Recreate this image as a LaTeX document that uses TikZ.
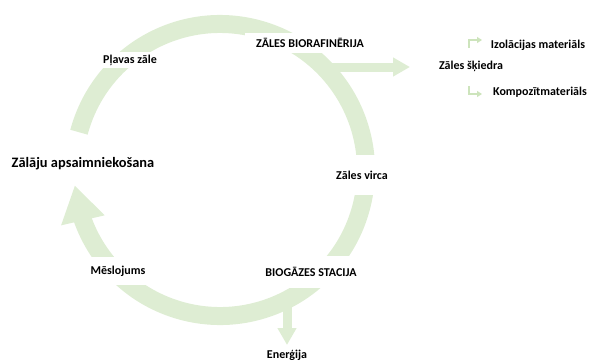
\documentclass[tikz,border=0pt]{standalone}
\usepackage{fontspec}
\setmainfont{Carlito}
\usepackage{xcolor}
\definecolor{bandGreen}{RGB}{222, 237, 211}
\definecolor{tickGreen}{RGB}{205, 228, 188}
\usetikzlibrary{positioning, arrows.meta, bending}

\begin{document}
\begin{tikzpicture}[
		x=1pt, y=-1pt,
		font=\bfseries\fontsize{12}{14}\selectfont,
		band/.style={draw=bandGreen, line width=18pt},
		branch/.style={draw=bandGreen, line width=9pt, -{Triangle[width=18pt, length=17pt]}},
		tick/.style={draw=tickGreen, line width=1.8pt, -{Triangle[width=6pt, length=5pt]}},
		lbl/.style={fill=white, inner sep=0pt, align=center}
		]
		\useasboundingbox (0,0) rectangle (593,362);
		\coordinate (hub) at (220,170);

		% cycle band and its two side branches
		\draw[band, -{Triangle[width=42pt, length=36pt, flex]}]
			([shift={(195:146)}]hub) arc[start angle=195, end angle=534, radius=146];
		\coordinate (refOut) at (322,67);
		\coordinate (refEnd) at (410,67);
		\coordinate (gasOut) at (287,298);
		\coordinate (gasEnd) at (287,345);
		\draw[branch] (refOut) -- (refEnd);
		\draw[branch] (gasOut) -- (gasEnd);

		% labels, white boxes cut the band
		\node[lbl, minimum width=125pt, minimum height=16pt] (meadow) at (130,60) {Pļavas zāle};
		\node[lbl, minimum width=130pt, minimum height=20pt] (refinery) at (310,43) {ZĀLES BIORAFINĒRIJA};
		\node[lbl, minimum width=70pt, minimum height=40pt] (slurry) at (362,175) {Zāles virca};
		\node[lbl, minimum width=110pt, minimum height=32pt] (biogas) at (311,272) {BIOGĀZES STACIJA};
		\node[lbl, minimum width=70pt, minimum height=28pt] (manure) at (118,271) {Mēslojums};
		\node[lbl, font=\bfseries\fontsize{14.4}{16}\selectfont] (mgmt) at (83,164) {Zālāju apsaimniekošana};
		\node[lbl] (energy) at (287,355) {Enerģija};
		\node[lbl] (fibre) at (471,66) {Zāles šķiedra};
		\node[lbl] (insul) at (538,45) {Izolācijas materiāls};
		\node[lbl] (compo) at (540,92) {Kompozītmateriāls};

		% small product arrows
		\coordinate (upFrom) at (469,48);
		\coordinate (upTo) at (482,40);
		\coordinate (dnFrom) at (469,86);
		\coordinate (dnTo) at (482,94);
		\draw[tick] (upFrom) |- (upTo);
		\draw[tick] (dnFrom) |- (dnTo);
	\end{tikzpicture}
\end{document}
